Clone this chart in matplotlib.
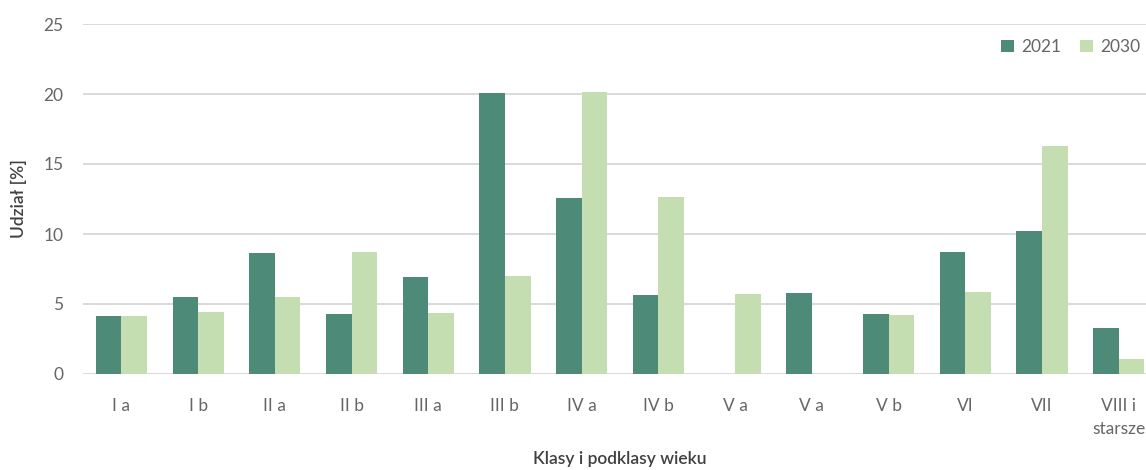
import numpy as np
import matplotlib
matplotlib.use("Agg")
import matplotlib.pyplot as plt

plt.rcParams['font.family'] = ['Lato', 'DejaVu Sans']

categories = ["I a", "I b", "II a", "II b", "III a", "III b", "IV a", "IV b",
              "V a", "V a", "V b", "VI", "VII", "VIII i\nstarsze"]
values_2021 = [4.12, 5.48, 8.62, 4.26, 6.95, 20.05, 12.57, 5.64,
               0.0, 5.76, 4.29, 8.69, 10.24, 3.26]
values_2030 = [4.12, 4.40, 5.50, 8.69, 4.33, 7.02, 20.14, 12.62,
               5.71, 0.0, 4.21, 5.86, 16.29, 1.09]
series_labels = ["2021", "2030"]
y_ticks = [0, 5, 10, 15, 20, 25]

DARK = "#4E8A78"
LIGHT = "#C4DEB1"
GRID = "#D9D9D9"
TICK_COLOR = "#666666"
LABEL_COLOR = "#404040"

fig = plt.figure(figsize=(11.46, 4.70), dpi=100)
ax = fig.add_axes([83 / 1146, 96 / 470, 1074 / 1146, 350 / 470])

x = np.arange(len(categories))
w = 1 / 3
ax.bar(x - w / 2, values_2021, width=w, color=DARK, label=series_labels[0], zorder=2)
ax.bar(x + w / 2, values_2030, width=w, color=LIGHT, label=series_labels[1], zorder=2)

ax.set_xlim(-0.5, len(categories) - 0.5)
ax.set_ylim(0, 25)
ax.set_yticks(y_ticks)
ax.set_xticks(x)
ax.set_xticklabels(categories, linespacing=1.6)

for s in ax.spines.values():
    s.set_visible(False)
ax.grid(axis="y", color=GRID, linewidth=1.4, zorder=0)
ax.set_axisbelow(True)
ax.tick_params(axis="y", length=0, pad=14, labelsize=12.5, labelcolor=TICK_COLOR)
ax.tick_params(axis="x", length=0, pad=17, labelsize=12.5, labelcolor=TICK_COLOR)

ax.set_ylabel("Udział [%]", fontsize=12.5, color=LABEL_COLOR, labelpad=12,
              fontweight="semibold")
ax.set_xlabel("Klasy i podklasy wieku", fontsize=12.5, color=LABEL_COLOR, labelpad=10,
              fontweight="semibold")

ax.legend(loc="center left", bbox_to_anchor=(0.855, 0.934), ncol=2, frameon=False,
          fontsize=12.5, handlelength=0.75, handleheight=0.75, handletextpad=0.4,
          columnspacing=1.1, borderpad=0, borderaxespad=0, labelcolor=TICK_COLOR)

fig.savefig("out.png", dpi=100)
